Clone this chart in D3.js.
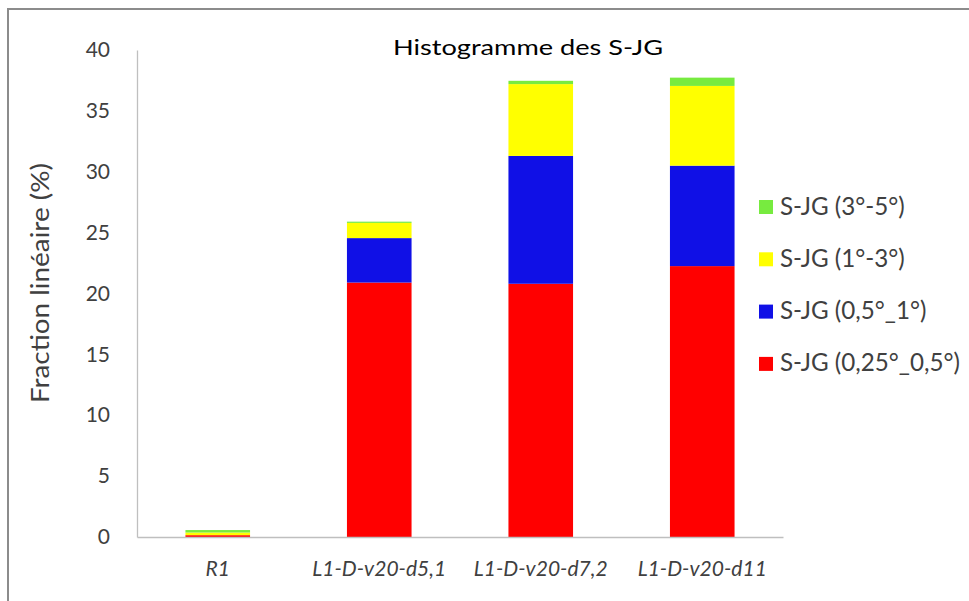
<!DOCTYPE html>
<html>
<head>
<meta charset="utf-8">
<script src="https://cdn.jsdelivr.net/npm/d3@7"></script>
<style>
  html, body { margin: 0; padding: 0; background: #fff; }
  svg { display: block; font-family: Lato, "Open Sans", sans-serif; }
</style>
</head>
<body>
<svg id="chart" width="969" height="601"></svg>
<script>
// Samples on the x axis
const categories = ["R1", "L1-D-v20-d5,1", "L1-D-v20-d7,2", "L1-D-v20-d11"];

// Linear fraction (%) per misorientation class, stacked bottom to top
const sjg_025_05 = [0.15, 20.9, 20.8, 22.25];
const sjg_05_1   = [0.0, 3.65, 10.5, 8.25];
const sjg_1_3    = [0.22, 1.25, 5.9, 6.55];
const sjg_3_5    = [0.2, 0.1, 0.27, 0.68];

const seriesNames = ["S-JG (0,25°_0,5°)", "S-JG (0,5°_1°)", "S-JG (1°-3°)", "S-JG (3°-5°)"];
const seriesColors = ["#ff0000", "#1010e6", "#ffff00", "#77eb3f"];
const yTicks = [0, 5, 10, 15, 20, 25, 30, 35, 40];

const rows = categories.map((c, i) => ({
  cat: c,
  s0: sjg_025_05[i], s1: sjg_05_1[i], s2: sjg_1_3[i], s3: sjg_3_5[i]
}));
const keys = ["s0", "s1", "s2", "s3"];

const svg = d3.select("#chart");

// size a text selection so that its widest item spans `target` pixels
function fitFont(sel, target) {
  let widest = 0;
  sel.each(function () { widest = Math.max(widest, this.getComputedTextLength()); });
  const base = parseFloat(sel.attr("font-size"));
  if (widest > 0) sel.attr("font-size", (base * target / widest).toFixed(2));
}

// outer frame
svg.append("rect")
  .attr("x", 8).attr("y", 9)
  .attr("width", 1000).attr("height", 700)
  .attr("fill", "none").attr("stroke", "#8c8c8c").attr("stroke-width", 2);

const x = d3.scaleBand().domain(categories).range([137, 783]).paddingInner(0.6).paddingOuter(0.3);
const y = d3.scaleLinear().domain([0, 40]).range([537, 50]);

const stack = d3.stack().keys(keys);
const layers = stack(rows);

svg.append("g").selectAll("g")
  .data(layers)
  .join("g")
  .attr("fill", (d, i) => seriesColors[i])
  .selectAll("rect")
  .data(d => d)
  .join("rect")
  .attr("x", d => x(d.data.cat))
  .attr("width", x.bandwidth())
  .attr("y", d => y(d[1]))
  .attr("height", d => Math.max(0, y(d[0]) - y(d[1])));

// y axis
const yAxis = svg.append("g")
  .attr("transform", "translate(137,0)")
  .call(d3.axisLeft(y).tickValues(yTicks).tickSize(0).tickPadding(27));
yAxis.select(".domain").attr("stroke", "#bfbfbf").attr("stroke-width", 1.3);
yAxis.selectAll("text")
  .attr("font-family", "Lato, sans-serif")
  .attr("font-size", 21).attr("fill", "#404040");

// x axis
const xAxis = svg.append("g")
  .attr("transform", "translate(0,537)")
  .call(d3.axisBottom(x).tickSize(0).tickPadding(24));
xAxis.select(".domain").attr("stroke", "#bfbfbf").attr("stroke-width", 1.3);
const xLabels = xAxis.selectAll("text")
  .attr("font-family", "Lato, sans-serif")
  .attr("font-size", 17).attr("font-style", "italic").attr("fill", "#404040");
fitFont(xLabels, 134);

// title
svg.append("text")
  .attr("x", 528).attr("y", 55)
  .attr("text-anchor", "middle")
  .attr("font-size", 21).attr("fill", "#000")
  .attr("textLength", 270).attr("lengthAdjust", "spacingAndGlyphs")
  .text("Histogramme des S-JG");

// y axis title
svg.append("text")
  .attr("transform", "translate(49,283) rotate(-90)")
  .attr("text-anchor", "middle")
  .attr("font-size", 25).attr("fill", "#404040")
  .attr("textLength", 240).attr("lengthAdjust", "spacingAndGlyphs")
  .text("Fraction linéaire (%)");

// legend, top entry is the top of the stack
const legendOrder = [3, 2, 1, 0];
const lg = svg.append("g").selectAll("g")
  .data(legendOrder)
  .join("g")
  .attr("transform", (d, i) => `translate(759,${207 + i * 52.3})`);
lg.append("rect")
  .attr("x", 0).attr("y", -7).attr("width", 14).attr("height", 14)
  .attr("fill", d => seriesColors[d]);
const legendText = lg.append("text")
  .attr("x", 21).attr("y", 7.5)
  .attr("font-family", "Lato, sans-serif")
  .attr("font-size", 20).attr("fill", "#404040")
  .text(d => seriesNames[d]);
fitFont(legendText, 180);
</script>
</body>
</html>
